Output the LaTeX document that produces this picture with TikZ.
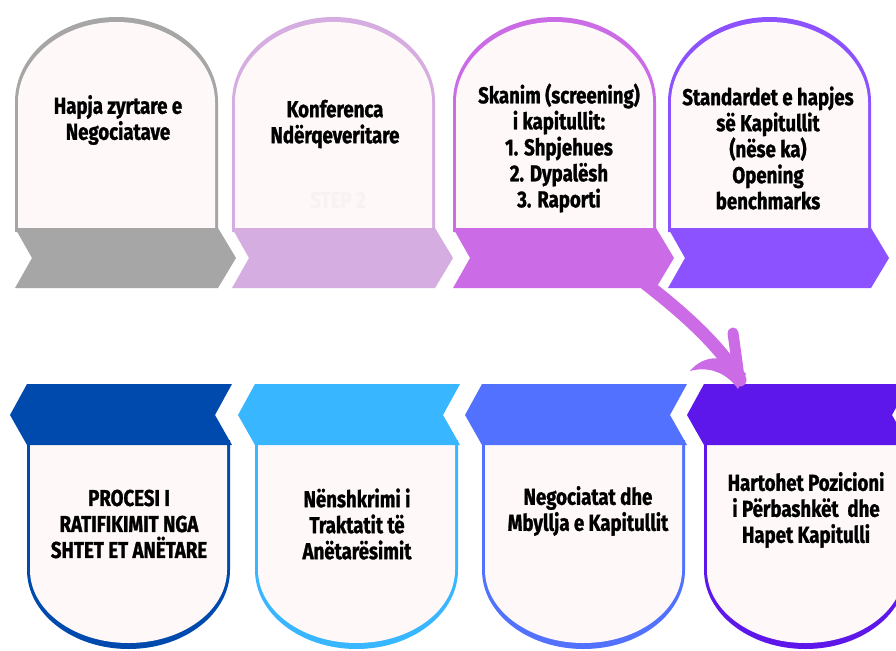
\documentclass[tikz,border=0pt]{standalone}
\usepackage{fontspec}
\setmainfont{Fira Sans}[FakeStretch=0.81,BoldFeatures={FakeBold=1.2}]
\definecolor{cGray}{HTML}{A6A6A6}
\definecolor{cLav}{HTML}{D5ADE0}
\definecolor{cOrch}{HTML}{CB6CE6}
\definecolor{cPurp}{HTML}{8C52FF}
\definecolor{cNavy}{HTML}{004AAD}
\definecolor{cSky}{HTML}{38B6FF}
\definecolor{cBlue}{HTML}{5271FF}
\definecolor{cViolet}{HTML}{5E17EB}
\definecolor{cBody}{HTML}{FEF9F8}
\definecolor{cGhost}{HTML}{F9F2F2}
\newcommand{\TopStep}[2]{%
\pgfmathsetmacro{\Rr}{#1+203}%
\pgfmathsetmacro{\Cc}{#1+101.5}%
\pgfmathsetmacro{\Li}{#1+3}%
\pgfmathsetmacro{\Ri}{#1+200}%
\fill[#2] (#1,232) -- (#1,102) .. controls (#1,55) and ({\Cc-56},17) .. (\Cc,17) .. controls ({\Cc+56},17) and (\Rr,55) .. (\Rr,102) -- (\Rr,232) -- cycle;
\fill[cBody] (\Li,232) -- (\Li,102) .. controls (\Li,58.5) and ({\Cc-54},22) .. (\Cc,22) .. controls ({\Cc+54},22) and (\Ri,58.5) .. (\Ri,102) -- (\Ri,232) -- cycle;
\fill[#2] (#1,228) -- (\Rr,228) -- ({\Rr+18},258) -- (\Rr,288) -- (#1,288) -- ({#1+17},258) -- cycle;
}
\newcommand{\BotStep}[2]{%
\pgfmathsetmacro{\Rr}{#1+203}%
\pgfmathsetmacro{\Cc}{#1+101.5}%
\pgfmathsetmacro{\Li}{#1+3}%
\pgfmathsetmacro{\Ri}{#1+200}%
\fill[#2] (#1,440) -- (#1,570) .. controls (#1,613.6) and ({\Cc-56},649) .. (\Cc,649) .. controls ({\Cc+56},649) and (\Rr,613.6) .. (\Rr,570) -- (\Rr,440) -- cycle;
\fill[cBody] (\Li,440) -- (\Li,570) .. controls (\Li,610.3) and ({\Cc-54.4},643) .. (\Cc,643) .. controls ({\Cc+54.4},643) and (\Ri,610.3) .. (\Ri,570) -- (\Ri,440) -- cycle;
\fill[#2] ({#1-17},415) -- (#1,384) -- ({\Rr+2},384) -- ({\Rr-15},415) -- ({\Rr+2},445) -- (#1,445) -- cycle;
}
\begin{document}
\begin{tikzpicture}[x=1pt,y=-1pt,
  steptext/.style={align=center,font=\bfseries\fontsize{23}{26}\selectfont,text=black,inner sep=0pt},
  arrowstroke/.style={draw=cOrch,line width=13pt,line cap=round}]
\useasboundingbox (0,0) rectangle (896,650);
\fill[white] (0,0) rectangle (896,650);
% arrow shaft (behind the boxes)
\coordinate (arrS) at (646,284);
\coordinate (arrE) at (739,377);
\draw[arrowstroke] (arrS) .. controls (682,312) and (716,342) .. (arrE);
% top row
\TopStep{15}{cGray}
\TopStep{232}{cLav}
\TopStep{453}{cOrch}
\TopStep{668}{cPurp}
% bottom row
\BotStep{27}{cNavy}
\BotStep{255}{cSky}
\BotStep{482}{cBlue}
\BotStep{704}{cViolet}
% arrow head
\draw[arrowstroke,line width=11pt] (733,333) -- (arrE);
\fill[cOrch] (690,371) .. controls (703,355) and (727,352) .. (746,374) -- (738,389) .. controls (726,372) and (708,366) .. cycle;
\fill[cOrch] (740,380) circle (6.5);
% texts
\node[steptext] (t1) at (118,120) {Hapja zyrtare e\\Negociatave};
\node[steptext] (t2) at (335,124) {Konferenca\\Ndërqeveritare};
\node[steptext,text=cGhost] (g2) at (338,200) {STEP 2};
\node[steptext] (t3) at (559,148) {Skanim (screening)\\i kapitullit:\\1. Shpjehues\\2. Dypalësh\\3. Raporti};
\node[steptext] (t4) at (768,148) {Standardet e hapjes\\së Kapitullit\\(nëse ka)\\Opening\\benchmarks};
\node[steptext] (t5) at (129,524) {PROCESI I\\RATIFIKIMIT NGA\\SHTET ET ANËTARE};
\node[steptext] (t6) at (357,524) {Nënshkrimi i\\Traktatit të\\Anëtarësimit};
\node[steptext] (t7) at (588,511) {Negociatat dhe\\Mbyllja e Kapitullit};
\node[steptext] (t8) at (806,510) {Hartohet Pozicioni\\i Përbashkët\ \ dhe\\Hapet Kapitulli};
\end{tikzpicture}
\end{document}
